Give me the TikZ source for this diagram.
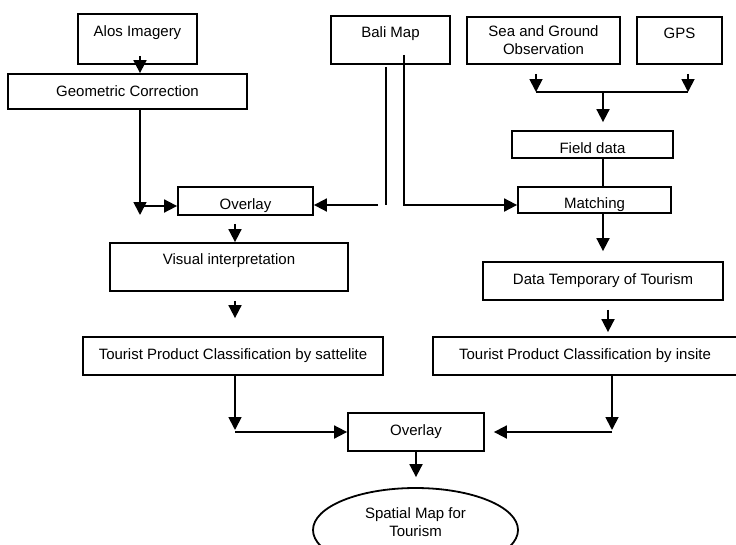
\documentclass[tikz,border=0pt]{standalone}
\usepackage{fontspec}
\setmainfont{Liberation Sans}
\usetikzlibrary{shapes.geometric, arrows.meta, positioning}
\tikzstyle{box} = [rectangle, draw=black, line width=1.8pt, text centered, inner sep=2pt]
\tikzstyle{tallbox} = [box, text height=11pt, text depth=16pt]
\tikzstyle{lowbox} = [box, text height=17pt, text depth=0pt]
\tikzstyle{oval} = [ellipse, draw=black, line width=1.8pt, align=center, inner sep=0pt]
\tikzstyle{arrow} = [line width=1.8pt, -{Triangle[length=13pt,width=13pt]}]
\tikzstyle{link} = [line width=1.8pt, -]

\begin{document}
\begin{tikzpicture}[x=1pt, y=-1pt, font=\fontsize{15}{18}\selectfont]
\useasboundingbox (0,0) rectangle (736,544);
% left column
\node (alos) [tallbox, minimum width=119pt, minimum height=50pt] at (137.5,39) {Alos Imagery};
\node (geo) [box, minimum width=239pt, minimum height=35pt] at (127.5,91.5) {Geometric Correction};
\node (ov1) [lowbox, minimum width=135pt, minimum height=28pt] at (245.5,201) {Overlay};
\node (vis) [tallbox, minimum width=238pt, minimum height=48pt] at (229,267) {Visual interpretation};
\node (tpsat) [box, minimum width=300pt, minimum height=38pt] at (233,356) {Tourist Product Classification by sattelite};
% right column
\node (bali) [tallbox, minimum width=119pt, minimum height=48pt] at (390.5,40) {Bali Map};
\node (sea) [box, align=center, minimum width=153pt, minimum height=47pt] at (543.5,40.5) {Sea and Ground\\Observation};
\node (gps) [tallbox, minimum width=85pt, minimum height=47pt] at (679.5,40.5) {GPS};
\node (field) [lowbox, minimum width=161pt, minimum height=27pt] at (592.5,144.5) {Field data};
\node (match) [lowbox, minimum width=153pt, minimum height=26pt] at (594.5,200) {Matching};
\node (data) [box, minimum width=240pt, minimum height=38pt] at (603,281) {Data Temporary of Tourism};
\node (tpins) [box, minimum width=304pt, minimum height=38pt] at (585,356) {Tourist Product Classification by insite};
% bottom
\node (ov2) [box, minimum width=136pt, minimum height=38pt] at (416,432) {Overlay};
\node (map) [oval, minimum width=205pt, minimum height=84pt, text depth=16pt] at (415.5,530) {Spatial Map for\\Tourism};

% alos -> geometric -> overlay
\coordinate (gcturn) at (140,206);
\coordinate (gcend) at (140,215);
\draw [arrow] ([xshift=2.5pt,yshift=9pt]alos.south) -- ([xshift=12.5pt]geo.north);
\draw [arrow] ([xshift=12.5pt]geo.south) -- (gcend);
\draw [arrow] (gcturn) -- (gcturn -| ov1.west);
% bali map
\coordinate (bl) at (386,205);
\coordinate (br) at (404,205);
\draw [link] ([xshift=-4.5pt,yshift=-2pt]bali.south) -- (bl);
\draw [arrow] ([xshift=-8pt]bl) -- (bl -| ov1.east);
\draw [arrow] ([xshift=13.5pt,yshift=10pt]bali.south) -- (br) -- (br -| match.west);
% sea, gps -> field data -> matching
\coordinate (sj) at (536,92);
\coordinate (gj) at (688,92);
\coordinate (fj) at (603,92);
\draw [arrow, shorten <=9pt] (sj |- sea.south) -- (sj);
\draw [arrow, shorten <=9pt] (gj |- gps.south) -- (gj);
\draw [link] (sj) -- (gj);
\draw [arrow, shorten >=8pt] (fj) -- (fj |- field.north);
\draw [link] (fj |- field.south) -- (fj |- match.north);
\draw [arrow, shorten >=10pt] (fj |- match.south) -- (data.north);
\draw [arrow, shorten <=9pt, shorten >=4pt] ([xshift=5pt]data.south) -- ([xshift=5pt]data.south |- tpins.north);
% overlay -> visual -> classification
\draw [arrow, shorten <=8pt] ([xshift=-10.5pt]ov1.south) -- ([xshift=-10.5pt]ov1.south |- vis.north);
\draw [arrow, shorten <=9pt, shorten >=18pt] ([xshift=6pt]vis.south) -- ([xshift=6pt]vis.south |- tpsat.north);
% both classifications -> overlay -> map
\coordinate (satj) at (235,432);
\coordinate (insj) at (612,432);
\draw [arrow] (satj |- tpsat.south) -- ([yshift=2pt]satj);
\draw [arrow] (satj) -- (ov2.west);
\draw [arrow] (insj |- tpins.south) -- ([yshift=2pt]insj);
\draw [arrow, shorten >=9pt] (insj) -- (ov2.east);
\draw [arrow, shorten >=10pt] (ov2.south) -- (ov2.south |- map.north);
\end{tikzpicture}
\end{document}
